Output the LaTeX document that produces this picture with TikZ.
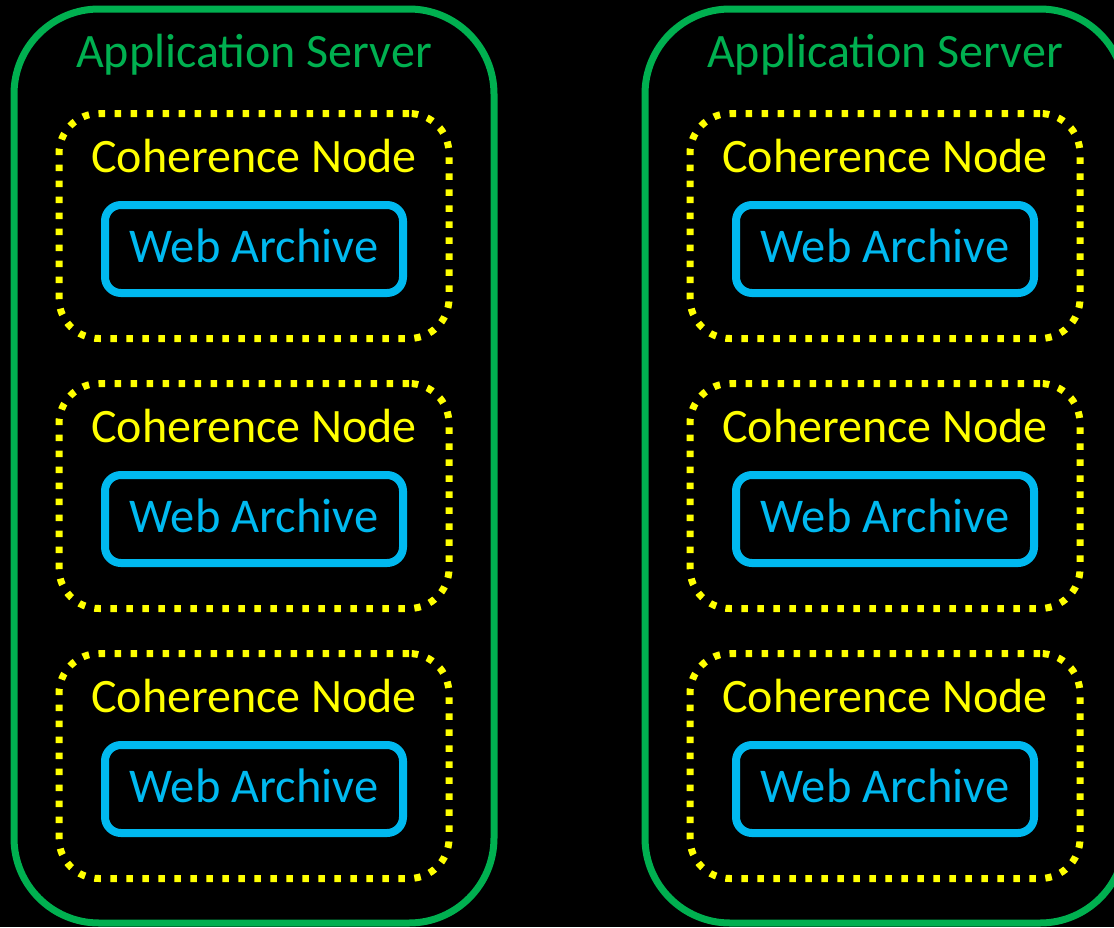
\documentclass[tikz,border=0pt]{standalone}
\usepackage{fontspec}
\setmainfont{Carlito}
\definecolor{srvgreen}{HTML}{00B050}
\definecolor{cohyellow}{HTML}{FFFF00}
\definecolor{warcyan}{HTML}{00B9F0}
\begin{document}
\begin{tikzpicture}[x=1pt,y=1pt,
  server/.style={draw=srvgreen,line width=7pt,rounded corners=85pt,minimum width=480pt,minimum height=914pt,inner sep=0pt},
  cohbox/.style={draw=cohyellow,line width=7pt,dash pattern=on 6.5pt off 9.5pt,rounded corners=40pt,minimum width=390pt,minimum height=225pt,inner sep=0pt},
  warbox/.style={draw=warcyan,line width=8pt,rounded corners=16pt,minimum width=298pt,minimum height=88pt,inner sep=0pt},
  srvtext/.style={text=srvgreen,font=\fontsize{48}{52}\selectfont,anchor=base,inner sep=0pt},
  cohtext/.style={text=cohyellow,font=\fontsize{48}{52}\selectfont,anchor=base,inner sep=0pt},
  wartext/.style={text=warcyan,font=\fontsize{48.5}{52}\selectfont,anchor=base,inner sep=0pt}]
\fill[black] (0,0) rectangle (1114,-927);
\useasboundingbox (0,0) rectangle (1114,-927);
\clip (0,0) rectangle (1114,-927);
\foreach \s/\dx in {L/0,R/631}{
  \node[server] (srv\s) at (254+\dx,-466) {};
  \node[srvtext] (srvt\s) at (254+\dx,-67) {Application Server};
  \foreach \i/\dy in {1/0,2/270,3/540}{
    \node[cohbox] (coh\s\i) at (254+\dx,-226-\dy) {};
    \node[cohtext] (coht\s\i) at (254+\dx,-172-\dy) {Coherence Node};
    \node[warbox] (war\s\i) at (254+\dx,-249-\dy) {};
    \node[wartext] (wart\s\i) at (254+\dx,-262-\dy) {Web Archive};
  }
}
\end{tikzpicture}
\end{document}
